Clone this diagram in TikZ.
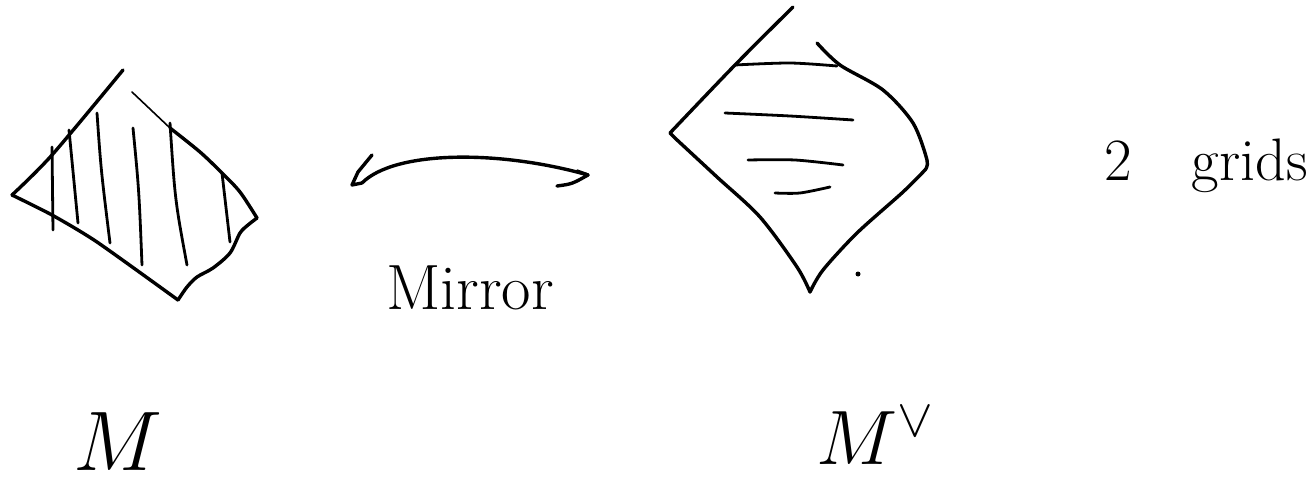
\documentclass[tikz,border=0pt]{standalone}
\usetikzlibrary{arrows.meta}
\begin{document}
\begin{tikzpicture}[x=0.5pt,y=-0.5pt, line cap=round, line join=round,
  stroke/.style={line width=1.7pt},
  hatch/.style={line width=1.4pt},
  faint/.style={line width=0.8pt},
  lbl/.style={inner sep=0pt, font=\fontsize{#1}{#1}\selectfont},
  lbl/.default=28]
\useasboundingbox (0,0) rectangle (1314,487);

% ---- left shape M ----
\draw[stroke] plot[smooth] coordinates {(123,70) (52,155) (12,195)};
\draw[stroke] plot[smooth, tension=0.4] coordinates {(12,195) (52,215) (97,242) (178,300)};
\draw[stroke] plot[smooth] coordinates {(178,300) (187,287) (197,277) (213,268) (230,253) (240,233) (248,225) (257,218)};
\draw[faint] (132,92) -- (170,128);
\draw[stroke] plot[smooth] coordinates {(170,128) (200,152) (222,173) (240,192) (257,218)};
\draw[hatch] (52,147) -- (53,230);
\draw[hatch] (69,130) -- (78,223);
\draw[hatch] (97,113) .. controls (101,170) .. (110,243);
\draw[hatch] (133,128) .. controls (139,190) .. (142,265);
\draw[hatch] (170,123) .. controls (175,200) .. (187,265);
\draw[hatch] (222,173) -- (230,242);

% ---- arrow ----
\coordinate (tail) at (362,183);
\coordinate (head) at (588,175);
\draw[stroke] (372,155) -- (358,172) -- (352,185) -- (tail);
\draw[stroke] (tail) .. controls (395,150) and (500,150) .. (head);
\draw[stroke] (557,186) .. controls (572,184) .. (head) -- (577,171);
\node[lbl=32] (mirror) at (470,288) {Mirror};

% ---- right shape M^vee ----
\draw[stroke] plot[smooth] coordinates {(793,7) (735,65) (670,133)};
\draw[stroke] (670,133) -- (676,139);
\draw[stroke] plot[smooth] coordinates {(676,139) (717,177) (760,217) (797,267) (810,292)};
\draw[stroke] plot[smooth] coordinates {(810,292) (823,270) (857,233) (903,192) (925,170)};
\draw[stroke] plot[smooth] coordinates {(925,170) (927,160) (913,123) (883,90) (840,65) (817,43)};
\draw[hatch] plot[smooth] coordinates {(735,65) (790,63) (837,66)};
\draw[hatch] plot[smooth] coordinates {(725,113) (790,116) (853,120)};
\draw[hatch] plot[smooth] coordinates {(748,160) (795,160) (843,165)};
\draw[hatch] plot[smooth] coordinates {(775,193) (800,193) (830,187)};
\fill (858,274) circle (2.5);

% ---- labels ----
\node[lbl=30, anchor=base east] (grids) at (1308,180) {2\hspace{1em}grids};
\node[lbl=24] (mlab) at (118,442) {\scalebox{1.7}{$M$}};
\node[lbl=24] (mdual) at (876,436) {\scalebox{1.55}{$M^{\vee}$}};
\end{tikzpicture}
\end{document}
